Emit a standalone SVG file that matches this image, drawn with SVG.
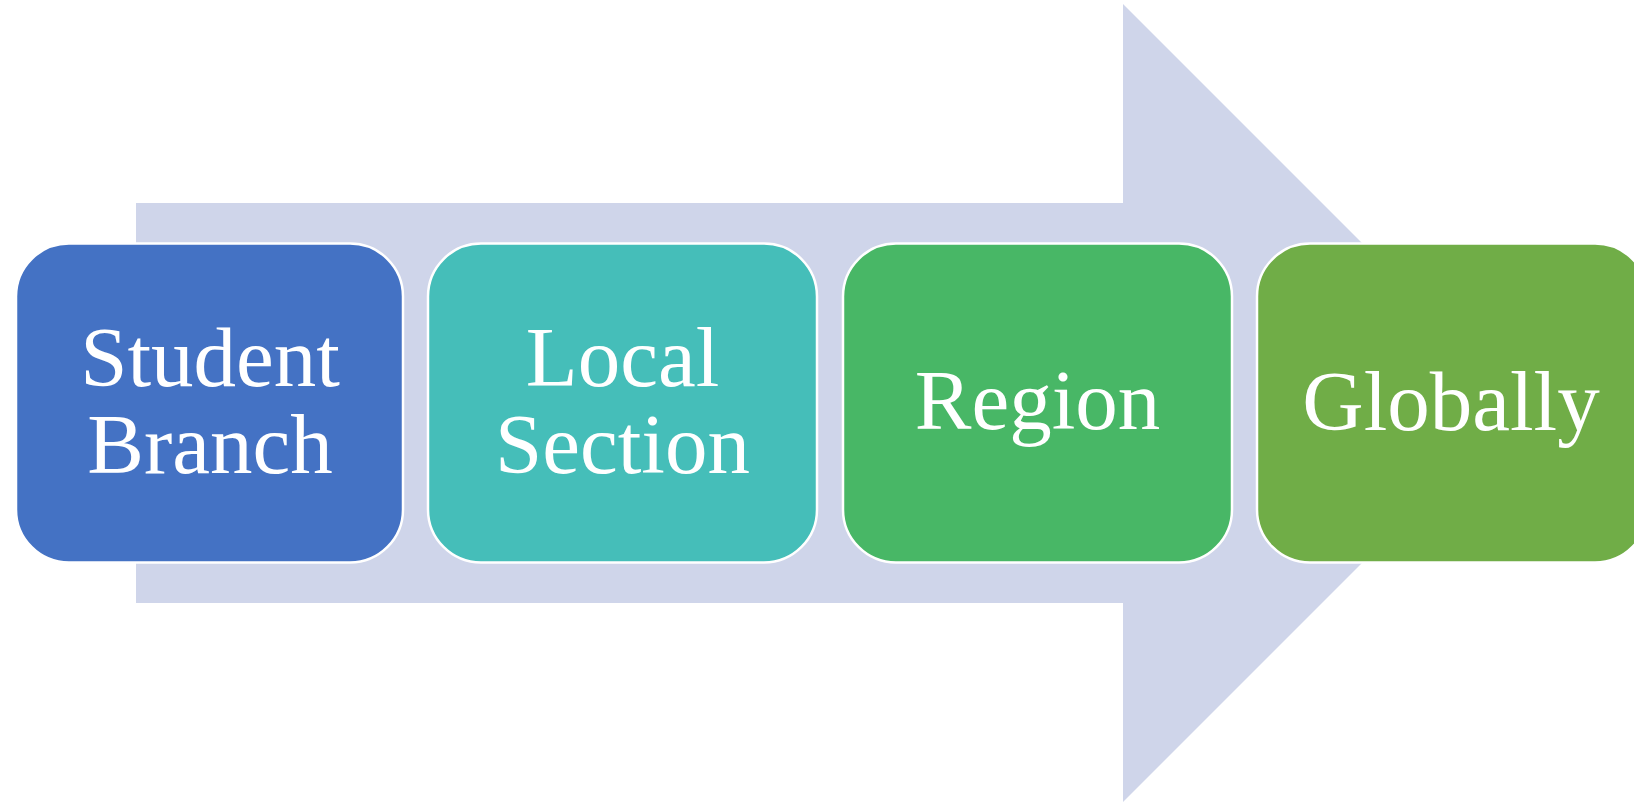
<svg xmlns="http://www.w3.org/2000/svg" width="1634" height="802" viewBox="0 0 1634 802">
<style>
.box{stroke:#FFFFFF;stroke-width:2.5}
.lbl{font-family:"Liberation Serif","Times New Roman",serif;font-size:85px;fill:#FFFFFF;text-anchor:middle}
</style>
<rect width="1634" height="802" fill="#FFFFFF"/>
<g id="connectors">
<polygon points="136,203 1123,203 1123,4 1522,403 1123,802 1123,603 136,603" fill="#CFD5EA"/>
</g>
<g id="node-student-branch">
<rect class="box" x="16" y="243.5" width="387" height="319" rx="53" ry="53" fill="#4472C4"/>
<text class="lbl" x="210" y="386">Student</text>
<text class="lbl" x="210" y="473">Branch</text>
</g>
<g id="node-local-section">
<rect class="box" x="428" y="243.5" width="389" height="319" rx="53" ry="53" fill="#45BEB9"/>
<text class="lbl" x="622.5" y="386">Local</text>
<text class="lbl" x="622.5" y="473">Section</text>
</g>
<g id="node-region">
<rect class="box" x="843" y="243.5" width="389" height="319" rx="53" ry="53" fill="#48B766"/>
<text class="lbl" x="1037.5" y="429">Region</text>
</g>
<g id="node-globally">
<rect class="box" x="1257" y="243.5" width="391" height="319" rx="53" ry="53" fill="#70AD47"/>
<text class="lbl" x="1451" y="430">Globally</text>
</g>
</svg>
